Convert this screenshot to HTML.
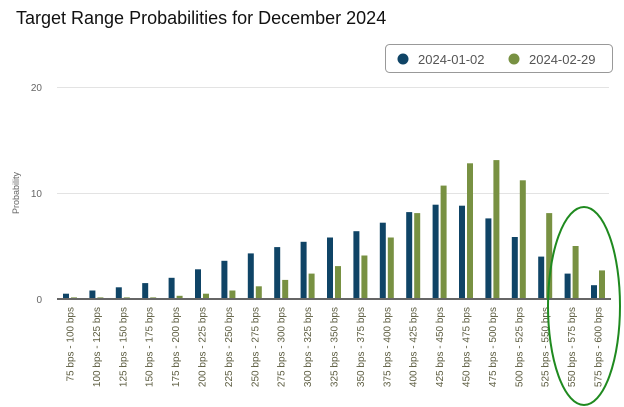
<!DOCTYPE html>
<html><head><meta charset="utf-8"><style>body{margin:0;background:#fff}svg{display:block;font-family:"Liberation Sans",Arial,sans-serif}</style></head>
<body>
<svg width="624" height="407" viewBox="0 0 624 407" xmlns="http://www.w3.org/2000/svg">
<text x="16" y="24" font-size="18" fill="#111">Target Range Probabilities for December 2024</text>
<rect x="385.5" y="44.5" width="227" height="28" rx="4" fill="#fff" stroke="#999"/>
<circle cx="403" cy="59" r="5.5" fill="#0f4466"/>
<text x="418" y="64" font-size="13" fill="#555">2024-01-02</text>
<circle cx="514" cy="59" r="5.5" fill="#789142"/>
<text x="529" y="64" font-size="13" fill="#555">2024-02-29</text>
<line x1="57" x2="609" y1="87.5" y2="87.5" stroke="#e3e3e3"/>
<line x1="57" x2="609" y1="193.5" y2="193.5" stroke="#e3e3e3"/>
<g font-size="10" fill="#666" text-anchor="end">
<text x="42" y="91">20</text><text x="42" y="197">10</text><text x="42" y="303">0</text>
</g>
<text transform="translate(19,193) rotate(-90)" font-size="9" fill="#666" text-anchor="middle">Probability</text>
<g fill="#0f4466">
<rect x="63" y="293.7" width="6" height="5.3"/><rect x="89.4" y="290.5" width="6" height="8.5"/><rect x="115.8" y="287.3" width="6" height="11.7"/><rect x="142.2" y="283.1" width="6" height="15.9"/><rect x="168.6" y="277.8" width="6" height="21.2"/><rect x="195" y="269.3" width="6" height="29.7"/><rect x="221.4" y="260.8" width="6" height="38.2"/><rect x="247.8" y="253.4" width="6" height="45.6"/><rect x="274.2" y="247.1" width="6" height="51.9"/><rect x="300.6" y="241.8" width="6" height="57.2"/><rect x="327" y="237.5" width="6" height="61.5"/><rect x="353.4" y="231.2" width="6" height="67.8"/><rect x="379.8" y="222.7" width="6" height="76.3"/><rect x="406.2" y="212.1" width="6" height="86.9"/><rect x="432.6" y="204.7" width="6" height="94.3"/><rect x="459" y="205.7" width="6" height="93.3"/><rect x="485.4" y="218.4" width="6" height="80.6"/><rect x="511.8" y="237" width="6" height="62"/><rect x="538.2" y="256.6" width="6" height="42.4"/><rect x="564.6" y="273.6" width="6" height="25.4"/><rect x="591" y="285.2" width="6" height="13.8"/>
</g>
<g fill="#789142">
<rect x="71" y="297.4" width="6" height="1.6"/><rect x="97.4" y="297.4" width="6" height="1.6"/><rect x="123.8" y="297.4" width="6" height="1.6"/><rect x="150.2" y="297.4" width="6" height="1.6"/><rect x="176.6" y="295.8" width="6" height="3.2"/><rect x="203" y="293.7" width="6" height="5.3"/><rect x="229.4" y="290.5" width="6" height="8.5"/><rect x="255.8" y="286.3" width="6" height="12.7"/><rect x="282.2" y="279.9" width="6" height="19.1"/><rect x="308.6" y="273.6" width="6" height="25.4"/><rect x="335" y="266.1" width="6" height="32.9"/><rect x="361.4" y="255.5" width="6" height="43.5"/><rect x="387.8" y="237.5" width="6" height="61.5"/><rect x="414.2" y="213.1" width="6" height="85.9"/><rect x="440.6" y="185.6" width="6" height="113.4"/><rect x="467" y="163.3" width="6" height="135.7"/><rect x="493.4" y="160.1" width="6" height="138.9"/><rect x="519.8" y="180.3" width="6" height="118.7"/><rect x="546.2" y="213.1" width="6" height="85.9"/><rect x="572.6" y="246" width="6" height="53"/><rect x="599" y="270.4" width="6" height="28.6"/>
</g>
<line x1="57" x2="611" y1="299" y2="299" stroke="#666" stroke-width="2"/>
<g font-size="10" fill="#5c5c40" text-anchor="end">
<text transform="translate(73.5,307) rotate(-90)">75 bps - 100 bps</text>
<text transform="translate(99.9,307) rotate(-90)">100 bps - 125 bps</text>
<text transform="translate(126.3,307) rotate(-90)">125 bps - 150 bps</text>
<text transform="translate(152.7,307) rotate(-90)">150 bps - 175 bps</text>
<text transform="translate(179.1,307) rotate(-90)">175 bps - 200 bps</text>
<text transform="translate(205.5,307) rotate(-90)">200 bps - 225 bps</text>
<text transform="translate(231.9,307) rotate(-90)">225 bps - 250 bps</text>
<text transform="translate(258.3,307) rotate(-90)">250 bps - 275 bps</text>
<text transform="translate(284.7,307) rotate(-90)">275 bps - 300 bps</text>
<text transform="translate(311.1,307) rotate(-90)">300 bps - 325 bps</text>
<text transform="translate(337.5,307) rotate(-90)">325 bps - 350 bps</text>
<text transform="translate(363.9,307) rotate(-90)">350 bps - 375 bps</text>
<text transform="translate(390.3,307) rotate(-90)">375 bps - 400 bps</text>
<text transform="translate(416.7,307) rotate(-90)">400 bps - 425 bps</text>
<text transform="translate(443.1,307) rotate(-90)">425 bps - 450 bps</text>
<text transform="translate(469.5,307) rotate(-90)">450 bps - 475 bps</text>
<text transform="translate(495.9,307) rotate(-90)">475 bps - 500 bps</text>
<text transform="translate(522.3,307) rotate(-90)">500 bps - 525 bps</text>
<text transform="translate(548.7,307) rotate(-90)">525 bps - 550 bps</text>
<text transform="translate(575.1,307) rotate(-90)">550 bps - 575 bps</text>
<text transform="translate(601.5,307) rotate(-90)">575 bps - 600 bps</text>
</g>
<ellipse cx="584" cy="306" rx="36" ry="99" fill="none" stroke="#1f8a1f" stroke-width="2"/>
</svg>
</body></html>
